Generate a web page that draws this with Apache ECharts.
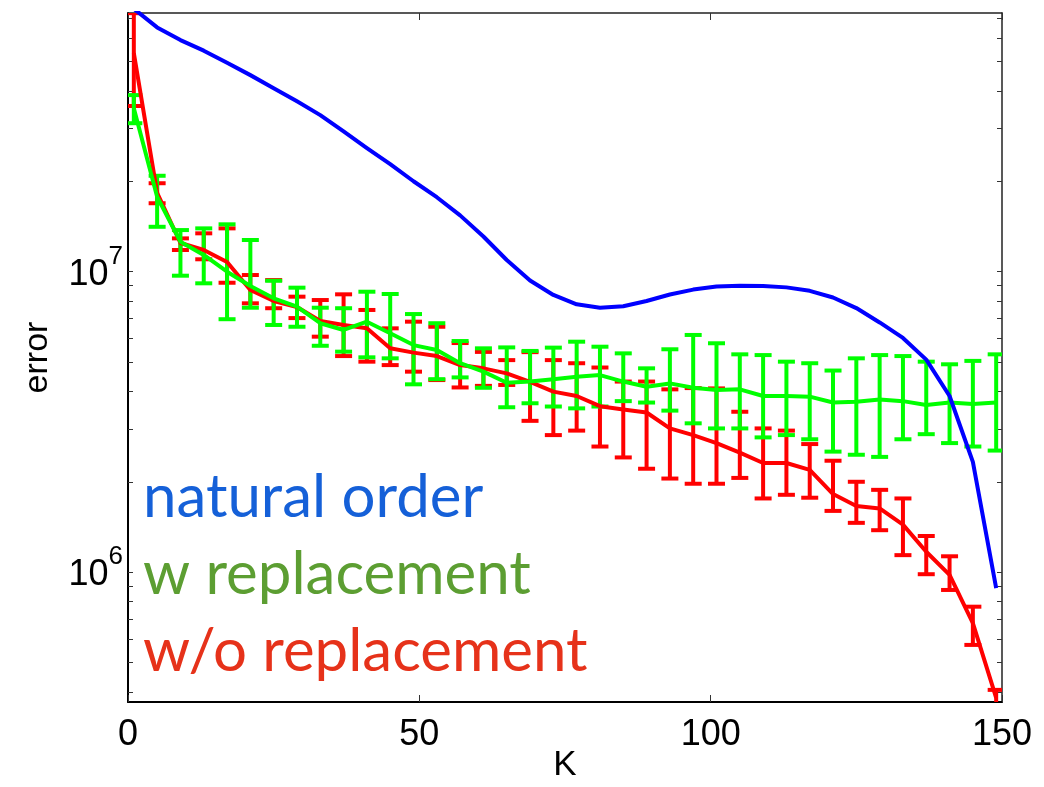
<!DOCTYPE html>
<html>
<head>
<meta charset="utf-8">
<script src="https://cdn.jsdelivr.net/npm/echarts@6/dist/echarts.min.js"></script>
<style>
html,body{margin:0;padding:0;background:#fff;}
#chart{width:1044px;height:787px;}
</style>
</head>
<body>
<div id="chart"></div>
<script>
// ---- data ----
const K = [1,5,9,13,17,21,25,29,33,37,41,45,49,53,57,61,65,69,73,77,81,85,89,93,97,101,105,109,113,117,121,125,129,133,137,141,145,149];

const naturalOrder = [7.5e7,6.50e7,5.90e7,5.44e7,4.96e7,4.51e7,4.08e7,3.69e7,3.32e7,2.93e7,2.58e7,2.28e7,2.00e7,1.77e7,1.54e7,1.31e7,1.094e7,9.35e6,8.37e6,7.79e6,7.59e6,7.68e6,7.99e6,8.40e6,8.72e6,8.93e6,8.98e6,8.97e6,8.87e6,8.64e6,8.21e6,7.57e6,6.78e6,6.02e6,5.10e6,3.86e6,2.33e6,8.86e5];

const withRepMean = [3.50e7,1.776e7,1.258e7,1.137e7,1.0e7,8.96e6,8.16e6,7.65e6,6.74e6,6.40e6,6.82e6,6.24e6,5.70e6,5.49e6,4.96e6,4.65e6,4.27e6,4.31e6,4.39e6,4.47e6,4.53e6,4.31e6,4.14e6,4.25e6,4.11e6,4.04e6,4.06e6,3.86e6,3.86e6,3.84e6,3.67e6,3.69e6,3.76e6,3.71e6,3.60e6,3.67e6,3.63e6,3.67e6];
const withRepLow  = [3.12e7,1.411e7,9.70e6,9.15e6,6.95e6,7.59e6,6.65e6,6.56e6,5.67e6,5.42e6,5.19e6,5.15e6,4.22e6,4.39e6,4.45e6,4.11e6,3.54e6,3.65e6,3.56e6,3.51e6,3.56e6,3.71e6,3.67e6,3.45e6,3.13e6,3.01e6,3.01e6,2.81e6,2.86e6,2.77e6,2.52e6,2.46e6,2.42e6,2.77e6,2.88e6,2.69e6,2.62e6,2.54e6];
const withRepHigh = [3.87e7,2.086e7,1.376e7,1.394e7,1.438e7,1.275e7,9.33e6,8.85e6,7.59e6,7.56e6,8.58e6,8.43e6,7.23e6,6.74e6,5.88e6,5.56e6,5.60e6,5.45e6,5.59e6,5.85e6,5.63e6,5.35e6,4.77e6,5.52e6,6.16e6,5.78e6,5.31e6,5.28e6,5.02e6,4.96e6,4.69e6,5.15e6,5.28e6,5.24e6,5.02e6,4.92e6,5.05e6,5.31e6];

const withoutRepMean = [5.34e7,1.83e7,1.246e7,1.181e7,1.077e7,8.69e6,7.99e6,7.63e6,6.86e6,6.65e6,6.48e6,5.56e6,5.38e6,5.24e6,4.89e6,4.77e6,4.59e6,4.30e6,3.99e6,3.86e6,3.57e6,3.48e6,3.40e6,3.01e6,2.86e6,2.69e6,2.50e6,2.31e6,2.31e6,2.19e6,1.82e6,1.66e6,1.63e6,1.44e6,1.17e6,9.80e5,6.77e5,3.82e5];
const withoutRepLow  = [3.56e7,1.69e7,1.181e7,1.10e7,9.19e6,7.85e6,7.56e6,7.01e6,6.08e6,5.24e6,5.02e6,4.89e6,4.65e6,4.36e6,4.12e6,4.17e6,4.20e6,3.19e6,2.86e6,2.96e6,2.62e6,2.41e6,2.21e6,2.05e6,1.97e6,1.97e6,2.06e6,1.76e6,1.81e6,1.77e6,1.60e6,1.46e6,1.38e6,1.14e6,9.85e5,8.73e5,5.73e5,3.48e5];
const withoutRepHigh = [7.25e7,1.97e7,1.291e7,1.342e7,1.394e7,9.75e6,9.38e6,8.26e6,8.05e6,8.41e6,7.46e6,6.48e6,6.82e6,6.56e6,5.79e6,5.41e6,5.08e6,5.40e6,5.08e6,4.96e6,4.80e6,4.31e6,4.31e6,4.06e6,4.10e6,4.09e6,3.42e6,3.01e6,2.96e6,2.67e6,2.35e6,2.00e6,1.88e6,1.76e6,1.32e6,1.13e6,7.68e5,4.06e5];

const xTicks = [0, 50, 100, 150];
const yTickValues = [4e5,5e5,6e5,7e5,8e5,9e5,1e6,2e6,3e6,4e6,5e6,6e6,7e6,8e6,9e6,1e7,2e7,3e7,4e7,5e7,6e7,7e7];
const legendLabels = ['natural order', 'w replacement', 'w/o replacement'];

// ---- chart ----
const chart = echarts.init(document.getElementById('chart'), null, {renderer: 'canvas'});
const FONT = 'Liberation Sans';
const Y_MIN = 3.7e5, Y_MAX = 7.26e7;

function pairs(ys) { return K.map((k, i) => [k, ys[i]]); }
function bars(lo, hi) { return K.map((k, i) => [k, lo[i], hi[i]]); }

function errorBarSeries(name, color, lo, hi) {
  return {
    name: name,
    type: 'custom',
    xAxisIndex: 0, yAxisIndex: 0,
    clip: true,
    silent: true,
    encode: {x: 0, y: [1, 2]},
    data: bars(lo, hi),
    renderItem: function (params, api) {
      const x = api.value(0);
      const pLo = api.coord([x, api.value(1)]);
      const pHi = api.coord([x, api.value(2)]);
      const hw = 8.5;
      const st = {stroke: color, lineWidth: 4, lineCap: 'butt'};
      return {
        type: 'group',
        children: [
          {type: 'line', shape: {x1: pLo[0], y1: pLo[1], x2: pHi[0], y2: pHi[1]}, style: st},
          {type: 'line', shape: {x1: pLo[0] - hw, y1: pLo[1], x2: pLo[0] + hw, y2: pLo[1]}, style: st},
          {type: 'line', shape: {x1: pHi[0] - hw, y1: pHi[1], x2: pHi[0] + hw, y2: pHi[1]}, style: st}
        ]
      };
    }
  };
}

function lineSeries(name, color, ys) {
  return {
    name: name, type: 'line', xAxisIndex: 0, yAxisIndex: 0,
    data: pairs(ys), showSymbol: false, symbol: 'none', clip: true, silent: true,
    lineStyle: {color: color, width: 4, join: 'round'}
  };
}

function logLabel(v) {
  const e = Math.log10(v);
  if (Math.abs(e - Math.round(e)) > 1e-6) return '';
  return '{b|10}{s|' + Math.round(e) + '}';
}

const option = {
  animation: false,
  backgroundColor: '#ffffff',
  grid: {left: 128, right: 42, top: 13, bottom: 85, containLabel: false, outerBoundsMode: 'none'},
  xAxis: [
    {
      type: 'value', position: 'bottom', min: xTicks[0], max: xTicks[xTicks.length - 1], interval: 50,
      axisLine: {show: true, onZero: false, lineStyle: {color: '#000', width: 2}},
      axisTick: {show: true, inside: true, length: 7, lineStyle: {color: '#333', width: 1}},
      axisLabel: {show: true, fontSize: 36, color: '#000', fontFamily: FONT, margin: 15},
      splitLine: {show: false},
      name: 'K', nameLocation: 'middle', nameGap: 46, nameMoveOverlap: false,
      nameTextStyle: {fontSize: 35, color: '#000', fontFamily: FONT}
    },
    {
      type: 'value', position: 'top', min: xTicks[0], max: xTicks[xTicks.length - 1], interval: 50,
      axisLine: {show: true, onZero: false, lineStyle: {color: '#222', width: 1.5}},
      axisTick: {show: true, inside: true, length: 7, lineStyle: {color: '#333', width: 1}},
      axisLabel: {show: false},
      splitLine: {show: false}
    }
  ],
  yAxis: [
    {
      type: 'log', logBase: 10, position: 'left', min: Y_MIN, max: Y_MAX,
      axisLine: {show: true, onZero: false, lineStyle: {color: '#000', width: 2}},
      axisTick: {show: true, inside: true, length: 5, customValues: yTickValues, lineStyle: {color: '#333', width: 1}},
      axisLabel: {
        show: true, margin: 5, formatter: logLabel,
        rich: {
          b: {fontSize: 36, fontFamily: FONT, color: '#000', lineHeight: 36, padding: [13, 0, 7, 0]},
          s: {fontSize: 26, fontFamily: FONT, color: '#000', lineHeight: 26, padding: [0, 0, 30, 0]}
        }
      },
      minorTick: {show: false},
      splitLine: {show: false},
      name: 'error', nameLocation: 'middle', nameGap: 73, nameMoveOverlap: false,
      nameTextStyle: {fontSize: 34, color: '#000', fontFamily: FONT}
    },
    {
      type: 'log', logBase: 10, position: 'right', min: Y_MIN, max: Y_MAX,
      axisLine: {show: true, onZero: false, lineStyle: {color: '#222', width: 1.5}},
      axisTick: {show: true, inside: true, length: 5, customValues: yTickValues, lineStyle: {color: '#333', width: 1}},
      axisLabel: {show: false},
      splitLine: {show: false}
    }
  ],
  series: [
    errorBarSeries(legendLabels[2] + ' bars', '#ff0000', withoutRepLow, withoutRepHigh),
    lineSeries(legendLabels[2], '#ff0000', withoutRepMean),
    errorBarSeries(legendLabels[1] + ' bars', '#00ff00', withRepLow, withRepHigh),
    lineSeries(legendLabels[1], '#00ff00', withRepMean),
    lineSeries(legendLabels[0], '#0000ff', naturalOrder)
  ],
  graphic: [
    {type: 'text', left: 143, top: 468, z: 100, style: {text: legendLabels[0], fill: '#1560d8', fontSize: 60, fontFamily: 'Lato'}},
    {type: 'text', left: 143, top: 545, z: 100, style: {text: legendLabels[1], fill: '#5c9e32', fontSize: 60, fontFamily: 'Lato'}},
    {type: 'text', left: 143, top: 622, z: 100, style: {text: legendLabels[2], fill: '#e6321a', fontSize: 60, fontFamily: 'Lato'}}
  ]
};
chart.setOption(option);
</script>
</body>
</html>
